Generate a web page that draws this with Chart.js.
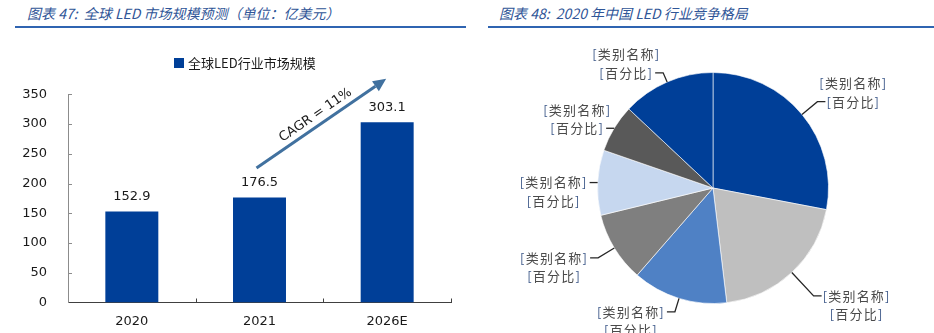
<!DOCTYPE html>
<html>
<head>
<meta charset="utf-8">
<script src="https://cdn.jsdelivr.net/npm/chart.js@4.4.1/dist/chart.umd.min.js"></script>
<style>
    body {
        margin: 0;
        width: 934px;
        height: 333px;
        background: #ffffff;
        position: relative;
        overflow: hidden;
        font-family: "Noto Sans CJK SC", sans-serif;
    }
    .titulo {
        position: absolute;
        top: 0;
        height: 26px;
        line-height: 26px;
        border-bottom: 2px solid #2f64b1;
        color: #2f5597;
        font-size: 14px;
        font-style: italic;
        box-sizing: content-box;
        white-space: nowrap;
    }
    #titulo1 { left: 15px; width: 439px; padding-left: 12px; }
    #titulo2 { left: 488px; width: 435px; padding-left: 11px; }
    .panel { position: absolute; top: 30px; width: 467px; height: 303px; }
    #panel1 { left: 0; }
    #panel2 { left: 467px; }
</style>
</head>
<body>
<div class="titulo" id="titulo1">图表 47:&nbsp; 全球 LED 市场规模预测（单位：亿美元）</div>
<div class="titulo" id="titulo2">图表 48:&nbsp; 2020 年中国 LED 行业竞争格局</div>
<div class="panel" id="panel1"><canvas id="graficoBarras" width="467" height="303"></canvas></div>
<div class="panel" id="panel2"><canvas id="graficoPastel" width="467" height="303"></canvas></div>

<script>
// Datos del gráfico de barras
const anios = ['2020', '2021', '2026E'];
const mercadoGlobal = [152.9, 176.5, 303.1];
const marcasY = [0, 50, 100, 150, 200, 250, 300, 350];
const nombreSerie = '全球LED行业市场规模';
const textoCagr = 'CAGR = 11%';

// Datos del gráfico circular
const categorias = ['[类别名称]', '[类别名称]', '[类别名称]', '[类别名称]', '[类别名称]', '[类别名称]', '[类别名称]'];
const etiquetasPct = ['[百分比]', '[百分比]', '[百分比]', '[百分比]', '[百分比]', '[百分比]', '[百分比]'];
const participacion = [28.0, 20.1, 13.3, 9.8, 9.1, 6.7, 13.0];

const AZUL = '#003f98';
const coloresPastel = ['#003f98', '#bfbfbf', '#4f81c5', '#7f7f7f', '#c6d7ef', '#595959', '#003f98'];
const FUENTE_NUM = '"DejaVu Sans", Verdana, sans-serif';
const FUENTE_CJK = '"Noto Sans CJK SC", sans-serif';

// Dibuja valores, marcas internas de los ejes, leyenda y la flecha de CAGR
const extrasBarras = {
    id: 'extrasBarras',
    afterDatasetsDraw(chart) {
        const { ctx, chartArea, scales: { x, y } } = chart;
        const barras = chart.getDatasetMeta(0).data;
        ctx.save();

        // valores encima de cada barra
        ctx.font = '13px ' + FUENTE_NUM;
        ctx.fillStyle = '#1a1a1a';
        ctx.textAlign = 'center';
        ctx.textBaseline = 'middle';
        barras.forEach((b, i) => ctx.fillText(mercadoGlobal[i].toFixed(1), b.x, b.y - 15));

        // marcas hacia dentro
        ctx.lineWidth = 1;
        ctx.strokeStyle = '#8c8c8c';
        y.ticks.forEach(t => {
            if (t.value === 0) return;
            const py = Math.round(y.getPixelForValue(t.value)) + 0.5;
            ctx.beginPath();
            ctx.moveTo(chartArea.left, py);
            ctx.lineTo(chartArea.left + 4, py);
            ctx.stroke();
        });
        ctx.strokeStyle = '#404040';
        const paso = x.getPixelForValue(1) - x.getPixelForValue(0);
        for (let i = 0; i < anios.length; i++) {
            const px = Math.round(x.getPixelForValue(i) + paso / 2) + 0.5;
            ctx.beginPath();
            ctx.moveTo(px, chartArea.bottom);
            ctx.lineTo(px, chartArea.bottom - 4);
            ctx.stroke();
        }

        // leyenda
        const ds = chart.data.datasets[0];
        ctx.fillStyle = ds.backgroundColor;
        ctx.fillRect(174, 28, 10, 10);
        ctx.font = '13px ' + FUENTE_CJK;
        ctx.fillStyle = '#1a1a1a';
        ctx.textAlign = 'left';
        ctx.fillText(ds.label, 188, 33.5);

        // flecha de crecimiento entre 2021 y 2026E
        const x0 = x.getPixelForValue(1) - 3, y0 = y.getPixelForValue(226);
        const x1 = x.getPixelForValue(2) - 1, y1 = y.getPixelForValue(376);
        const ang = Math.atan2(y1 - y0, x1 - x0);
        const largoPunta = 13;
        ctx.strokeStyle = '#41719f';
        ctx.fillStyle = '#41719f';
        ctx.lineWidth = 3;
        ctx.beginPath();
        ctx.moveTo(x0, y0);
        ctx.lineTo(x1 - Math.cos(ang) * largoPunta, y1 - Math.sin(ang) * largoPunta);
        ctx.stroke();
        const bx = x1 - Math.cos(ang) * largoPunta, by = y1 - Math.sin(ang) * largoPunta;
        ctx.beginPath();
        ctx.moveTo(x1, y1);
        ctx.lineTo(bx + Math.sin(ang) * 6, by - Math.cos(ang) * 6);
        ctx.lineTo(bx - Math.sin(ang) * 6, by + Math.cos(ang) * 6);
        ctx.closePath();
        ctx.fill();

        const mx = (x0 + x1) / 2 + Math.sin(ang) * 10;
        const my = (y0 + y1) / 2 - Math.cos(ang) * 10;
        ctx.translate(mx, my);
        ctx.rotate(ang);
        ctx.font = '13px ' + FUENTE_NUM;
        ctx.fillStyle = '#1a1a1a';
        ctx.textAlign = 'center';
        ctx.textBaseline = 'middle';
        ctx.fillText(textoCagr, 0, 0);
        ctx.restore();
    }
};

new Chart(document.getElementById('graficoBarras'), {
    type: 'bar',
    data: {
        labels: anios,
        datasets: [{
            label: nombreSerie,
            data: mercadoGlobal,
            backgroundColor: AZUL,
            barPercentage: 0.415,
            categoryPercentage: 1
        }]
    },
    options: {
        responsive: false,
        animation: false,
        layout: { padding: { top: 64.3, right: 16, bottom: 0, left: 0 } },
        plugins: { legend: { display: false }, tooltip: { enabled: false } },
        scales: {
            x: {
                grid: { display: false },
                border: { display: true, color: '#404040', width: 1 },
                ticks: { color: '#1a1a1a', font: { family: FUENTE_NUM, size: 13 }, padding: 3 },
                afterFit(escala) { escala.height = 30.5; }
            },
            y: {
                min: marcasY[0],
                max: marcasY[marcasY.length - 1],
                grid: { display: false },
                border: { display: true, color: '#8c8c8c', width: 1 },
                ticks: {
                    stepSize: marcasY[1] - marcasY[0],
                    color: '#1a1a1a',
                    font: { family: FUENTE_NUM, size: 13 },
                    padding: 13
                },
                afterFit(escala) { escala.width = 68; }
            }
        }
    },
    plugins: [extrasBarras]
});

// Texto con corchetes en otro color
function textoConCorchetes(ctx, texto, cx, cy) {
    const ini = texto[0], fin = texto[texto.length - 1], centro = texto.slice(1, -1);
    const w1 = ctx.measureText(ini).width, w2 = ctx.measureText(centro).width, w3 = ctx.measureText(fin).width;
    let px = cx - (w1 + w2 + w3) / 2;
    ctx.fillStyle = '#3f5a8a';
    ctx.fillText(ini, px, cy);
    ctx.fillStyle = '#4a4a4a';
    ctx.fillText(centro, px + w1, cy);
    ctx.fillStyle = '#3f5a8a';
    ctx.fillText(fin, px + w1 + w2, cy);
}

// Etiquetas con líneas guía para cada sector
const etiquetasPastel = {
    id: 'etiquetasPastel',
    afterDatasetsDraw(chart, args, opts) {
        const { ctx } = chart;
        const arcos = chart.getDatasetMeta(0).data;
        ctx.save();
        ctx.font = '13px ' + FUENTE_CJK;
        ctx.letterSpacing = '1.2px';
        ctx.textAlign = 'left';
        ctx.textBaseline = 'middle';
        arcos.forEach((arco, i) => {
            const { x, y, startAngle, endAngle, outerRadius } =
                arco.getProps(['x', 'y', 'startAngle', 'endAngle', 'outerRadius'], true);
            const medio = (startAngle + endAngle) / 2;
            const c = Math.cos(medio), s = Math.sin(medio);
            const r1 = outerRadius + opts.alcance[i];
            const lado = c >= 0 ? 1 : -1;
            const p0 = { x: x + c * outerRadius, y: y + s * outerRadius };
            const p1 = { x: x + c * r1, y: y + s * r1 };
            const p2 = { x: p1.x + lado * 8, y: p1.y };

            ctx.strokeStyle = '#262626';
            ctx.lineWidth = 1.3;
            ctx.beginPath();
            ctx.moveTo(p0.x, p0.y);
            ctx.lineTo(p1.x, p1.y);
            ctx.lineTo(p2.x, p2.y);
            ctx.stroke();

            const lineas = [categorias[i], etiquetasPct[i]];
            const unida = p2.y < y - 20 ? 1 : 0;
            const ancho = ctx.measureText(lineas[unida]).width;
            const cx = lado > 0 ? p2.x + 1 + ancho / 2 : p2.x - 2 - ancho / 2;
            const yUnida = p2.y;
            const yOtra = unida === 1 ? p2.y - 18.5 : p2.y + 18.5;
            textoConCorchetes(ctx, lineas[unida], cx, yUnida);
            textoConCorchetes(ctx, lineas[1 - unida], cx, yOtra);
        });
        ctx.restore();
    }
};

new Chart(document.getElementById('graficoPastel'), {
    type: 'pie',
    data: {
        labels: categorias,
        datasets: [{
            data: participacion,
            backgroundColor: coloresPastel,
            borderColor: 'rgba(255,255,255,0.6)',
            borderWidth: 1
        }]
    },
    options: {
        responsive: false,
        animation: false,
        layout: { padding: { top: 42, right: 105, bottom: 29, left: 130 } },
        plugins: {
            legend: { display: false },
            tooltip: { enabled: false },
            etiquetasPastel: { alcance: [20, 32, 14, 19, 0, 0, 10] }
        }
    },
    plugins: [etiquetasPastel]
});
</script>
</body>
</html>
